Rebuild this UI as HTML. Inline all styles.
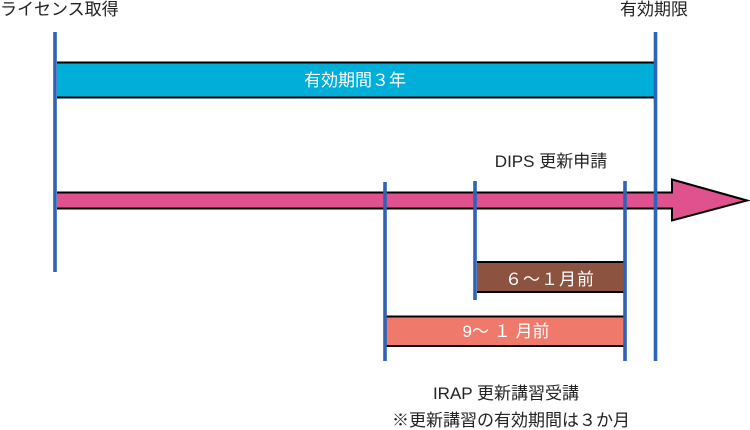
<!DOCTYPE html>
<html><head><meta charset="utf-8"><style>
html,body{margin:0;padding:0;background:#fff;}
svg{display:block;}
text{font-family:"Liberation Sans","Noto Sans CJK JP",sans-serif;font-size:17px;}
</style></head><body>
<svg width="750" height="430" viewBox="0 0 750 430" xmlns="http://www.w3.org/2000/svg">
<rect width="750" height="430" fill="#fff"/>
<!-- cyan bar -->
<rect x="57" y="62" width="598" height="36" fill="#00AEDA"/>
<line x1="57" y1="62.5" x2="655" y2="62.5" stroke="#000" stroke-width="2"/>
<line x1="57" y1="97.5" x2="655" y2="97.5" stroke="#000" stroke-width="2"/>
<!-- pink arrow -->
<polygon points="57,192.5 672,192.5 672,179.5 747,200.5 672,220.5 672,208.5 57,208.5" fill="#E0528D"/>
<polyline points="57,192.5 672,192.5 672,179.5 747,200.5 672,220.5 672,208.5 57,208.5" fill="none" stroke="#000" stroke-width="2"/>
<!-- brown bar -->
<rect x="477" y="262" width="148" height="30" fill="#8C5341"/>
<line x1="477" y1="262" x2="625" y2="262" stroke="#000" stroke-width="2"/>
<line x1="477" y1="292" x2="625" y2="292" stroke="#000" stroke-width="2"/>
<!-- salmon bar -->
<rect x="385" y="317" width="240" height="29" fill="#EF7A6B"/>
<line x1="385" y1="316.5" x2="625" y2="316.5" stroke="#000" stroke-width="2"/>
<line x1="385" y1="346" x2="625" y2="346" stroke="#000" stroke-width="2"/>
<!-- blue vertical lines -->
<g stroke="#2E63B5" stroke-width="3.6">
<line x1="55" y1="32" x2="55" y2="272"/>
<line x1="655.5" y1="32" x2="655.5" y2="361"/>
<line x1="385" y1="182" x2="385" y2="361"/>
<line x1="475" y1="181" x2="475" y2="300"/>
<line x1="625" y1="181" x2="625" y2="361"/>
</g>
<!-- labels -->
<text x="0" y="15" fill="#222">ライセンス取得</text>
<text x="620" y="15" fill="#222">有効期限</text>
<text x="355" y="86" fill="#fff" text-anchor="middle">有効期間３年</text>
<text x="551" y="167" fill="#222" text-anchor="middle">DIPS 更新申請</text>
<text x="550" y="285" fill="#fff" text-anchor="middle" letter-spacing="1">６～１月前</text>
<text x="506" y="337" fill="#fff" text-anchor="middle">9～ １ 月前</text>
<text x="506" y="399" fill="#222" text-anchor="middle">IRAP 更新講習受講</text>
<text x="511" y="426" fill="#222" text-anchor="middle">※更新講習の有効期間は３か月</text>
</svg>
</body></html>
